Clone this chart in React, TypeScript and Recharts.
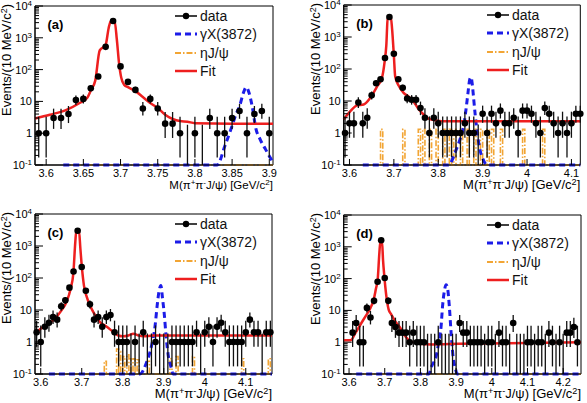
import React from "react";
import {
  ComposedChart,
  Scatter,
  Line,
  XAxis,
  YAxis,
  ErrorBar,
  Legend,
  ReferenceArea,
} from "recharts";

const FONT = '"Liberation Sans", Arial, Helvetica, sans-serif';
const RED = "#ee1f1f";
const BLUE = "#1c1ce8";
const ORANGE = "#f2a534";

// data histograms: 10 MeV bins, first bin centred at 3.59
const BIN0 = 3.59;
const BINW = 0.01;
const ETA_W = 0.005;

const countsA = [1, 1, 3, 3, 4, 11, 12, 26, 61, 520, 3360, 126, 41, 23, 6, 12, 6, 2, 2, 1, 0, 1, 0, 3, 1, 1, 3, 5, 1, 4, 5, 1];
const countsB = [
  1, 2, 2, 9, 2, 3, 15, 36, 48, 220, 4200, 300, 48, 26, 12, 11, 11, 6, 3, 1, 3, 2, 1, 1, 1, 1, 1, 2, 1, 1, 0, 4, 1, 4, 2,
  5, 2, 2, 3, 1, 5, 5, 4, 2, 1, 6, 4, 2, 1, 2, 1, 2, 4, 4,
];
const countsC = [
  2, 1, 3, 4, 6, 5, 13, 20, 50, 160, 3000, 220, 40, 15, 5, 6, 3, 6, 7, 2, 1, 1, 1, 0, 1, 0, 2, 0, 0, 1, 0, 0, 0, 1, 1, 1,
  1, 1, 1, 2, 0, 2, 3, 1, 3, 4, 2, 1, 1, 1, 1, 2, 5, 2, 2, 0, 2, 2,
];
const countsD = [
  null, null, 2, 4, 1, 1, 12, 6, 20, 80, 1600, 105, 20, 4, 3, 2, 2, 2, 1, 2, 1, 1, 1, 0, 0, 0, 1, 0, 0, 0, 0, 0, 4, 2, 2,
  1, 1, 1, 1, 0, 1, 1, 0, 2, 1, 1, 0, 4, 0, 0, 0, 1, 1, 0, 1, 1, 0, 2, 1, 0, 1, 0, 2, 2, 3, 1,
];

// fit curves [mass, events]
const fitA: [number, number][] = [
  [3.585, 2.9], [3.605, 3.8], [3.628, 5.5], [3.645, 8.9], [3.655, 12.7], [3.66, 22], [3.666, 45], [3.672, 400],
  [3.68, 600], [3.684, 2000], [3.687, 3400], [3.692, 3400], [3.695, 900], [3.698, 160], [3.701, 55], [3.705, 33],
  [3.71, 28], [3.72, 21], [3.73, 13.7], [3.74, 8.9], [3.75, 6.2], [3.76, 3.8], [3.77, 2.8], [3.78, 2.4], [3.79, 2.3],
  [3.8, 2.07], [3.85, 2.0], [3.905, 2.0],
];
const fitB: [number, number][] = [
  [3.587, 2.64], [3.602, 4.8], [3.617, 7.3], [3.632, 7.8], [3.647, 12.7], [3.662, 28], [3.673, 52], [3.679, 162],
  [3.683, 550], [3.686, 3600], [3.693, 4300], [3.696, 1800], [3.7, 265], [3.703, 58], [3.711, 30], [3.722, 18],
  [3.733, 13.7], [3.745, 9.3], [3.756, 5.5], [3.767, 3.8], [3.778, 2.8], [3.793, 2.5], [3.808, 2.33], [4.12, 2.33],
];
const fitC: [number, number][] = [
  [3.586, 1.8], [3.606, 3], [3.631, 4.8], [3.651, 9.9], [3.663, 18], [3.673, 47], [3.6795, 140], [3.6844, 1400],
  [3.6868, 3000], [3.6933, 3000], [3.6966, 850], [3.7006, 200], [3.7055, 57], [3.712, 26], [3.72, 14], [3.73, 7.8],
  [3.7445, 4.2], [3.761, 3], [3.777, 2.06], [3.789, 1.6], [3.8015, 1.5], [3.814, 1.6], [3.826, 1.8], [3.838, 1.6],
  [3.85, 1.5], [3.875, 1.6], [4.164, 1.6],
];
const fitD: [number, number][] = [
  [3.585, 1.15], [3.604, 1.15], [3.618, 1.96], [3.632, 3.6], [3.646, 6.5], [3.66, 11.9], [3.669, 21.8], [3.6756, 50],
  [3.6802, 92], [3.6849, 630], [3.6877, 1460], [3.6924, 1460], [3.6952, 390], [3.6989, 117], [3.7045, 28],
  [3.711, 10.6], [3.7185, 7.4], [3.7297, 4.5], [3.7437, 2.8], [3.7577, 1.54], [3.7717, 1.07], [3.795, 0.91],
  [3.832, 0.85], [3.907, 0.89], [4.25, 1.0],
];

// gamma X(3872) shapes
const gxA: [number, number][] = [
  [3.623, 0.1], [3.83, 0.1], [3.84, 0.38], [3.85, 1.7], [3.855, 3.8], [3.86, 7], [3.865, 18], [3.869, 28],
  [3.873, 18], [3.877, 7], [3.882, 1.4], [3.888, 0.62], [3.895, 0.31], [3.905, 0.12],
];
const gxB: [number, number][] = [
  [3.63, 0.1], [3.8235, 0.1], [3.8385, 0.26], [3.85, 0.7], [3.857, 1.6], [3.8625, 5.4], [3.867, 18], [3.871, 48],
  [3.874, 55], [3.877, 30], [3.88, 11], [3.8835, 3.4], [3.889, 0.78], [3.895, 0.26], [3.902, 0.14], [3.91, 0.1],
  [4.12, 0.1],
];
const gxC: [number, number][] = [
  [3.62, 0.1], [3.842, 0.1], [3.858, 0.23], [3.8705, 0.79], [3.879, 3.3], [3.884, 14], [3.889, 42], [3.893, 58],
  [3.897, 23], [3.9015, 6.9], [3.9055, 1.6], [3.911, 0.38], [3.917, 0.18], [3.923, 0.1], [4.164, 0.1],
];
const gxD: [number, number][] = [
  [3.62, 0.1], [3.823, 0.1], [3.832, 0.18], [3.844, 0.36], [3.851, 0.95], [3.858, 3.2], [3.862, 13.4], [3.867, 40],
  [3.872, 64], [3.876, 50], [3.881, 13.4], [3.886, 1.96], [3.891, 0.4], [3.898, 0.15], [3.903, 0.1], [4.25, 0.1],
];

// eta J/psi histogram: [bin low edge, height]
const etaA: [number, number][] = [];
const etaB: [number, number][] = [
  [3.67, 1.3], [3.72, 1.3], [3.755, 1.3], [3.765, 1.3], [3.78, 1.3], [3.795, 1.3], [3.81, 1.3], [3.825, 1.3],
  [3.835, 1.3], [3.85, 1.3], [3.865, 1.3], [3.88, 1.3], [3.895, 1.3], [3.91, 1.3], [3.92, 1.3], [3.94, 1.3],
  [3.99, 1.3], [4.035, 1.3],
];
const etaC: [number, number][] = [
  [3.755, 0.25], [3.785, 0.6], [3.79, 0.5], [3.8, 0.35], [3.81, 0.4], [3.815, 0.3], [3.825, 0.3], [3.835, 0.28],
  [3.86, 0.25], [3.915, 0.3], [3.93, 0.35], [3.97, 0.35], [4.09, 0.3], [4.155, 0.3],
];
const etaD: [number, number][] = [];

const ticksA = [3.6, 3.65, 3.7, 3.75, 3.8, 3.85, 3.9];
const ticksBC = [3.6, 3.7, 3.8, 3.9, 4, 4.1];
const ticksD = [3.6, 3.7, 3.8, 3.9, 4, 4.1, 4.2];
const yMajor = [0.1, 1, 10, 100, 1000, 10000];
const yTicks = [...yMajor, ...yMajor.slice(0, -1).flatMap((d) => [2, 3, 4, 5, 6, 7, 8, 9].map((m) => m * d))];

// 68% Poisson intervals for small counts
const lowerLim = [0, 0.173, 0.708, 1.367, 2.086, 2.84, 3.62, 4.419, 5.232, 6.057, 6.891];
const upperLim = [1.841, 3.3, 4.638, 5.918, 7.163, 8.382, 9.584, 10.77, 11.95, 13.11, 14.27];

const legendItems = [
  { label: "data", color: "#000", width: 1.5, dash: undefined as string | undefined, dot: true },
  { label: "γX(3872)", color: BLUE, width: 3, dash: "6 4", dot: false },
  { label: "ηJ/ψ", color: ORANGE, width: 2, dash: "6 2 1.5 2", dot: false },
  { label: "Fit", color: RED, width: 2.5, dash: undefined, dot: false },
];

type Pt = { x: number; y: number; err: [number, number] };

function toPoints(counts: (number | null)[]) {
  const filled: Pt[] = [];
  const empty: Pt[] = [];
  counts.forEach((n, k) => {
    if (n === null) return;
    const x = +(BIN0 + k * BINW).toFixed(3);
    if (n === 0) {
      empty.push({ x, y: 0.1, err: [0, upperLim[0] - 0.1] });
      return;
    }
    const lo = n < lowerLim.length ? lowerLim[n] : n - Math.sqrt(n);
    const hi = n < upperLim.length ? upperLim[n] : n + Math.sqrt(n) + 1;
    filled.push({ x, y: n, err: [n - lo, hi - n] });
  });
  return { filled, empty };
}

const toXY = (pairs: [number, number][]) => pairs.map(([x, y]) => ({ x, y }));

function etaSteps(bins: [number, number][], from: number, to: number) {
  const pts = [{ x: from, y: 0.1 }];
  bins.forEach(([a, h]) => {
    const e = +(a + ETA_W).toFixed(4);
    pts.push({ x: a, y: 0.1 }, { x: a, y: h }, { x: e, y: h }, { x: e, y: 0.1 });
  });
  pts.push({ x: to, y: 0.1 });
  return pts;
}

const XTick = (props: any) => {
  const { x, y, payload } = props;
  return (
    <g>
      <line x1={x} x2={x} y1={y} y2={y - 6} stroke="#000" />
      <text x={x} y={y + 11.5} textAnchor="middle" fontSize={11} fontFamily={FONT} fill="#000">
        {String(payload.value)}
      </text>
    </g>
  );
};

const YTick = (props: any) => {
  const { x, y, payload } = props;
  const lg = Math.log10(payload.value);
  const exp = Math.round(lg);
  const major = Math.abs(lg - exp) < 1e-6;
  return (
    <g>
      <line x1={x} x2={x + (major ? 8 : 4)} y1={y} y2={y} stroke="#000" />
      {major && (
        <text x={x - 3} y={y + 4} textAnchor="end" fontSize={11} fontFamily={FONT} fill="#000">
          {exp === 0 ? "1" : exp === 1 ? "10" : (
            <>
              10<tspan dy={-4} fontSize={8}>{exp}</tspan>
            </>
          )}
        </text>
      )}
    </g>
  );
};

const LegendRows = () => (
  <div style={{ fontFamily: FONT, fontSize: 14, color: "#111" }}>
    {legendItems.map((item) => (
      <div key={item.label} style={{ display: "flex", alignItems: "center", height: 18.5 }}>
        <svg width={25} height={12} style={{ display: "block" }}>
          <line x1={0} x2={22} y1={6} y2={6} stroke={item.color} strokeWidth={item.width} strokeDasharray={item.dash} />
          {item.dot && <circle cx={11} cy={6} r={3.2} fill="#000" />}
        </svg>
        <span>{item.label}</span>
      </div>
    ))}
  </div>
);

type PanelCfg = {
  tag: string;
  left: number;
  top: number;
  width: number;
  height: number;
  plot: { l: number; t: number; r: number; b: number };
  xDomain: [number, number];
  xTicks: number[];
  counts: (number | null)[];
  fit: [number, number][];
  gx: [number, number][];
  eta: [number, number][];
  etaFrom: number;
  legendX: number;
  xTitleSize: number;
};

function Panel(p: PanelCfg) {
  const { filled, empty } = toPoints(p.counts);
  const { l, t, r, b } = p.plot;
  const sup = p.xTitleSize * 0.7;
  const xTitle = () => (
    <text x={r} y={b + 23.5} textAnchor="end" fontSize={p.xTitleSize} fontFamily={FONT} fill="#000">
      {"M(π"}
      <tspan dy={-4} fontSize={sup}>+</tspan>
      <tspan dy={4}>π</tspan>
      <tspan dy={-4} fontSize={sup}>-</tspan>
      <tspan dy={4}>{"J/ψ) [GeV/c"}</tspan>
      <tspan dy={-4} fontSize={sup}>2</tspan>
      <tspan dy={4}>]</tspan>
    </text>
  );
  const yTitle = () => (
    <g>
      <text
        x={l - 24}
        y={t - 2}
        transform={`rotate(-90, ${l - 24}, ${t - 2})`}
        textAnchor="end"
        fontSize={13}
        fontFamily={FONT}
        fill="#000"
      >
        {"Events/(10 MeV/c"}
        <tspan dy={-4} fontSize={9}>2</tspan>
        <tspan dy={4}>)</tspan>
      </text>
      <text x={l + 12.5} y={t + 23} fontSize={13} fontWeight="bold" fontFamily={FONT} fill="#000">
        {p.tag}
      </text>
    </g>
  );
  return (
    <div style={{ position: "absolute", left: p.left, top: p.top }}>
      <ComposedChart width={p.width} height={p.height} margin={{ top: t, right: p.width - r, bottom: 0, left: 0 }}>
        <XAxis
          type="number"
          dataKey="x"
          domain={p.xDomain}
          ticks={p.xTicks}
          interval={0}
          tickSize={0}
          tickMargin={0}
          tickLine={false}
          tick={<XTick />}
          height={p.height - b}
          stroke="#000"
          label={{ content: xTitle }}
        />
        <YAxis
          type="number"
          scale="log"
          domain={[0.1, 10000]}
          ticks={yTicks}
          interval={0}
          tickSize={0}
          tickMargin={0}
          tickLine={false}
          tick={<YTick />}
          width={l}
          stroke="#000"
          label={{ content: yTitle }}
        />
        <ReferenceArea
          x1={p.xDomain[0]}
          x2={p.xDomain[1]}
          y1={0.1}
          y2={10000}
          fill="none"
          stroke="#000"
          strokeWidth={1}
          ifOverflow="visible"
        />
        <Line
          data={etaSteps(p.eta, p.etaFrom, p.xDomain[1])}
          dataKey="y"
          type="linear"
          stroke={ORANGE}
          strokeWidth={1.6}
          strokeDasharray="6 2 1.5 2"
          dot={false}
          activeDot={false}
          legendType="none"
          isAnimationActive={false}
        />
        <Line
          data={toXY(p.gx)}
          dataKey="y"
          type="monotone"
          stroke={BLUE}
          strokeWidth={3}
          strokeDasharray="6 4"
          dot={false}
          activeDot={false}
          legendType="none"
          isAnimationActive={false}
        />
        <Line
          data={toXY(p.fit)}
          dataKey="y"
          type="monotone"
          stroke={RED}
          strokeWidth={2.5}
          dot={false}
          activeDot={false}
          legendType="none"
          isAnimationActive={false}
        />
        <Scatter data={empty} dataKey="y" shape={() => <g />} legendType="none" isAnimationActive={false}>
          <ErrorBar dataKey="err" direction="y" width={0} stroke="#111" strokeWidth={1.3} />
        </Scatter>
        <Scatter
          data={filled}
          dataKey="y"
          shape={(s: any) => <circle cx={s.cx} cy={s.cy} r={3.3} fill="#000" />}
          legendType="none"
          isAnimationActive={false}
        >
          <ErrorBar dataKey="err" direction="y" width={0} stroke="#111" strokeWidth={1.3} />
        </Scatter>
        <Legend
          layout="vertical"
          align="center"
          verticalAlign="middle"
          content={() => <LegendRows />}
          wrapperStyle={{ position: "absolute", left: p.legendX, top: t + 0.5, width: 100, height: 76 }}
        />
      </ComposedChart>
    </div>
  );
}

export default function App() {
  return (
    <div style={{ position: "absolute", left: 0, top: 0, width: 587, height: 403, background: "#fff" }}>
      <Panel
        tag="(a)"
        left={0}
        top={0}
        width={293}
        height={200}
        plot={{ l: 35, t: 6, r: 273, b: 165 }}
        xDomain={[3.585, 3.905]}
        xTicks={ticksA}
        counts={countsA}
        fit={fitA}
        gx={gxA}
        eta={etaA}
        etaFrom={3.623}
        legendX={175}
        xTitleSize={11.5}
      />
      <Panel
        tag="(b)"
        left={293}
        top={0}
        width={294}
        height={200}
        plot={{ l: 50.7, t: 5, r: 287.3, b: 165 }}
        xDomain={[3.587, 4.12]}
        xTicks={ticksBC}
        counts={countsB}
        fit={fitB}
        gx={gxB}
        eta={etaB}
        etaFrom={3.63}
        legendX={194}
        xTitleSize={13}
      />
      <Panel
        tag="(c)"
        left={0}
        top={200}
        width={293}
        height={203}
        plot={{ l: 35, t: 14, r: 272, b: 174 }}
        xDomain={[3.586, 4.164]}
        xTicks={ticksBC}
        counts={countsC}
        fit={fitC}
        gx={gxC}
        eta={etaC}
        etaFrom={3.62}
        legendX={175}
        xTitleSize={13}
      />
      <Panel
        tag="(d)"
        left={293}
        top={200}
        width={294}
        height={203}
        plot={{ l: 50.7, t: 15, r: 288, b: 174 }}
        xDomain={[3.585, 4.25]}
        xTicks={ticksD}
        counts={countsD}
        fit={fitD}
        gx={gxD}
        eta={etaD}
        etaFrom={3.62}
        legendX={194}
        xTitleSize={13}
      />
    </div>
  );
}
